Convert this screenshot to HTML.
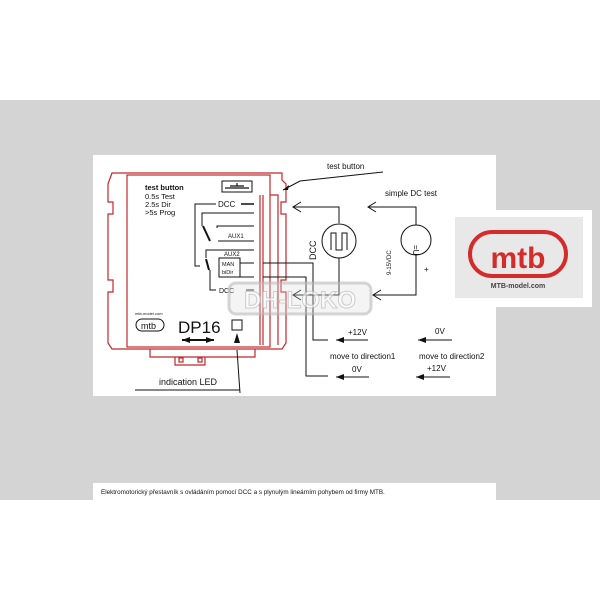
<!DOCTYPE html>
<html><head><meta charset="utf-8"><style>
html,body{margin:0;padding:0;background:#fff;width:600px;height:600px;overflow:hidden}
svg{display:block}
text{font-family:"Liberation Sans",sans-serif;fill:#111}
</style></head><body>
<svg width="600" height="600" viewBox="0 0 600 600" xmlns="http://www.w3.org/2000/svg">
<defs>
<marker id="fa" markerUnits="userSpaceOnUse" markerWidth="8" markerHeight="6" refX="0" refY="3" orient="auto"><path d="M8,0 L0,3 L8,6 Z" fill="#111"/></marker>
<marker id="fb" markerUnits="userSpaceOnUse" markerWidth="8" markerHeight="6" refX="8" refY="3" orient="auto"><path d="M0,0 L8,3 L0,6 Z" fill="#111"/></marker>
</defs>
<rect x="0" y="100" width="600" height="400" fill="#d4d4d4"/>
<rect x="93" y="155" width="403" height="241" fill="#fff"/>
<rect x="93" y="483" width="403" height="17" fill="#fff"/>
<text x="101" y="494" font-size="6.3">Elektromotorický přestavník s ovládáním pomocí DCC a s plynulým lineárním pohybem od firmy MTB.</text>

<g fill="none" stroke="#c0282c" stroke-width="1.2">
<path d="M112,173 H282 V180 L286,184 V202 H281 V214 H286 V280 H281 V292 H286 V343 L282,349 H112 L108,343 V292 H113 V280 H108 V214 H113 V202 H108 V184 Z"/>
<rect x="127" y="175" width="143" height="172"/>
<line x1="260" y1="195" x2="260" y2="345"/>
<line x1="263" y1="195" x2="263" y2="345"/>
<path d="M270,195 H278 V345"/>
<path d="M150,349 V357 H255 V349"/>
<path d="M175,357 V365 H205 V357"/>
<rect x="179" y="358" width="4" height="4"/>
<rect x="198" y="358" width="4" height="4"/>
</g>
<text x="145" y="190" font-size="7.5" font-weight="bold">test button</text>
<text x="145" y="199" font-size="7.5">0.5s  Test</text>
<text x="145" y="207" font-size="7.5">2.5s  Dir</text>
<text x="145" y="215" font-size="7.5">&gt;5s   Prog</text>
<rect x="222" y="181" width="30" height="11" fill="none" stroke="#111" stroke-width="1"/>
<path d="M225,188 H249 M230,186 H244 M237,183 V186" stroke="#111" stroke-width="1.2"/>
<g stroke="#111" stroke-width="1" fill="none">
<path d="M216,204 H195 V266 H200"/>
<line x1="241" y1="204" x2="254" y2="204" stroke-width="1.5"/>
<path d="M254,213 H202 V226"/>
<line x1="203" y1="226" x2="210" y2="241" stroke-width="2"/>
<path d="M217,228 V226 H254"/>
<line x1="218" y1="241" x2="254" y2="241"/>
<path d="M254,250 H206 V258"/>
<line x1="206" y1="259" x2="209" y2="270" stroke-width="2"/>
<rect x="219" y="258" width="21" height="19" fill="#fff"/>
<path d="M240,263 H254 M240,277 H254"/>
<path d="M210,270 V290 H216"/>
<line x1="246" y1="290" x2="254" y2="290"/>
</g>
<text x="228" y="238" font-size="6">AUX1</text>
<text x="224" y="256" font-size="6">AUX2</text>
<text x="222" y="266" font-size="5.5">MAN</text>
<text x="222" y="274" font-size="5.5">biDir</text>
<text x="218" y="207" font-size="8">DCC</text>
<text x="219" y="293" font-size="7">DCC</text>
<text x="135" y="315" font-size="4">mtb-model.com</text>
<rect x="136" y="319" width="28" height="12" rx="6" fill="none" stroke="#111"/>
<text x="141" y="329" font-size="9">mtb</text>
<text x="178" y="333" font-size="17">DP16</text>
<rect x="232" y="320" width="10" height="10" fill="#fff" stroke="#111"/>
<line x1="182" y1="340" x2="214" y2="340" stroke="#111" stroke-width="2" marker-start="url(#fa)" marker-end="url(#fb)"/>
<path d="M237,350 L240,393" stroke="#111" fill="none"/>
<path d="M234,343 L237,333 L240,343 Z" fill="#111"/>
<path d="M135,390 H240" stroke="#111"/>
<text x="159" y="385" font-size="9">indication LED</text>

<text x="327" y="169" font-size="8">test button</text>
<path d="M283,190 L300,181 L383,172" stroke="#111" fill="none"/>
<path d="M283,190 l6,-5 l-1,5 z" fill="#111"/>
<text x="385" y="196" font-size="8">simple DC test</text>
<g stroke="#111" fill="none" stroke-width="1">
<path d="M339,223 V207 H293 M301,202 L293,207 L301,212"/>
<path d="M416,225 V207 H368 M376,202 L368,207 L376,212"/>
<circle cx="339" cy="241" r="17"/>
<circle cx="416" cy="240" r="15"/>
<path d="M331,250 V233 H336 V250 H342 V233 H347 V250"/>
<path d="M339,258 V295 H293 M301,290 L293,295 L301,300"/>
<path d="M416,255 V295 H373 M381,290 L373,295 L381,300"/>
<path d="M263,263 H313 V340 H328"/>
<path d="M263,277 H306 V376 H328"/>
<line x1="336" y1="340" x2="368" y2="340" marker-start="url(#fa)"/>
<line x1="336" y1="377" x2="369" y2="377" marker-start="url(#fa)"/>
<line x1="418" y1="340" x2="452" y2="340" marker-start="url(#fa)"/>
<line x1="416" y1="377" x2="450" y2="377" marker-start="url(#fa)"/>
</g>
<text x="316" y="260" font-size="9" transform="rotate(-90 316 260)">DCC</text>
<text x="391" y="275" font-size="6" transform="rotate(-90 391 275)">9-15VDC</text>
<text x="413" y="245" font-size="8" transform="rotate(90 413 245)">=U</text>
<text x="424" y="272" font-size="8">+</text>
<text x="348" y="335" font-size="8">+12V</text>
<text x="435" y="334" font-size="8">0V</text>
<text x="330" y="359" font-size="8">move to direction1</text>
<text x="419" y="359" font-size="8">move to direction2</text>
<text x="352" y="372" font-size="8">0V</text>
<text x="427" y="371" font-size="8">+12V</text>

<rect x="229" y="283" width="142" height="31" rx="7" fill="rgba(220,220,220,0.3)" stroke="rgba(180,180,180,0.55)" stroke-width="3"/>
<text x="300" y="308" font-size="24" font-weight="bold" text-anchor="middle" style="fill:rgba(255,255,255,0.6);stroke:rgba(170,170,170,0.55);stroke-width:1">DH-LOKO</text>

<rect x="452" y="210" width="140" height="97" fill="#fff"/>
<rect x="455" y="217" width="128" height="81" fill="#e8e8e8"/>
<rect x="470" y="232" width="96" height="44" rx="22" fill="none" stroke="#d42b2b" stroke-width="4"/>
<text x="518" y="268" font-size="30" font-weight="bold" text-anchor="middle" style="fill:#d42b2b">mtb</text>
<text x="518" y="288" font-size="7" font-weight="bold" text-anchor="middle" style="fill:#444">MTB-model.com</text>
</svg>
</body></html>
